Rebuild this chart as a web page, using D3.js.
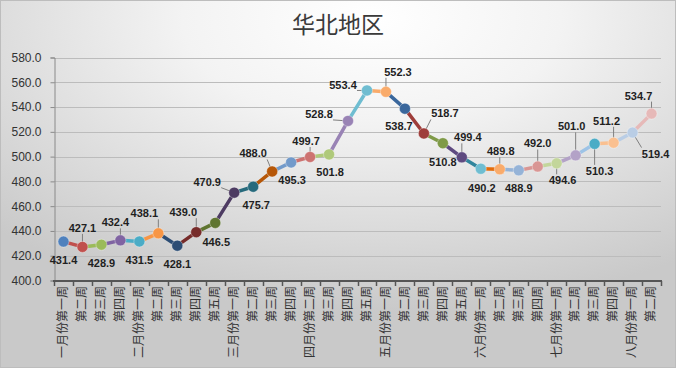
<!DOCTYPE html>
<html><head><meta charset="utf-8">
<script src="https://cdn.jsdelivr.net/npm/d3@7"></script>
<style>body{margin:0;background:#fff}svg{display:block}</style>
</head><body>
<svg id="c" width="676" height="368"></svg>
<script>
const title = "华北地区";
const categories = ["一月份第一周","第二周","第三周","第四周",
  "二月份第一周","第二周","第三周","第四周","第五周",
  "三月份第一周","第二周","第三周","第四周",
  "四月份第二周","第三周","第四周","第五周",
  "五月份第一周","第二周","第三周","第四周","第五周",
  "六月份第一周","第二周","第三周","第四周",
  "七月份第一周","第二周","第三周","第四周",
  "八月份第一周","第二周"];
const values = [431.4,427.1,428.9,432.4,431.5,438.1,428.1,439.0,446.5,470.9,475.7,488.0,
  495.3,499.7,501.8,528.8,553.4,552.3,538.7,518.7,510.8,499.4,490.2,489.8,488.9,492.0,
  494.6,501.0,510.3,511.2,519.4,534.7];
const yTicks = [400,420,440,460,480,500,520,540,560,580];

// styling (Excel vary-colors palette)
const lineColors = ["#4F81BD","#C0504D","#9BBB59","#8064A2","#4BACC6","#F79646",
  "#2C4D75","#772C2A","#5F7530","#4D3B62","#276A7C","#B65708",
  "#729ACA","#CD7371","#AFC97A","#9983B5","#6FBDD1","#F9AB6B",
  "#3A679C","#9E3D3A","#7F9A48","#5E4A80","#31859C","#E46C0A",
  "#95B3D7","#D99694","#C3D69B","#B3A2C7","#9DC3E6","#FAC090",
  "#B9CDE5","#E6B9B8"];
const markerColors = lineColors.map((c,i)=> i===22 ? "#6FBDD1" : i===23 ? "#F9AB6B" : i===28 ? "#4BACC6" : c);
// label offsets [dx, dy, leader]
const labelPos = [[0,18,0],[0,-19,1],[0,18,0],[-5,-18,1],[0,19,0],[-14,-20,1],[0,18,0],[-13,-20,1],
  [1,19,0],[-27,-11,1],[3,18,0],[-19,-18,1],[1,18,0],[-4,-16,1],[1,18,0],[-29,-7,1],
  [-24,-5,1],[12,-20,1],[-6,17,0],[21,-20,1],[0,19,0],[6,-20,1],[1,19,0],[1,-18,1],
  [0,18,0],[0,-23,1],[6,17,1],[-4,-29,1],[5,27,1],[-7,-22,1],[23,21,1],[-13,-18,1]];

const svg = d3.select("#c");
const W = 676, H = 368;
const defs = svg.append("defs");
const g = defs.append("radialGradient").attr("id","bg")
  .attr("cx","0.55").attr("cy","0.05").attr("r","0.8").attr("fx","0.55").attr("fy","0.05");
g.append("stop").attr("offset","0").attr("stop-color","#ffffff");
g.append("stop").attr("offset","0.35").attr("stop-color","#f3f3f3");
g.append("stop").attr("offset","1").attr("stop-color","#c9c9c9");
svg.append("rect").attr("x",0.5).attr("y",0.5).attr("width",W-1).attr("height",H-1)
  .attr("fill","url(#bg)").attr("stroke","#bdbdbd");

const x = d3.scaleBand().domain(d3.range(categories.length)).range([54, 661]);
const y = d3.scaleLinear().domain([400,580]).range([280.5, 57.5]);
const cx = i => x(i) + x.bandwidth()/2;

// title
svg.append("text").attr("x",338).attr("y",33).attr("text-anchor","middle")
  .attr("font-family","'Noto Sans CJK SC'").attr("font-size",23).attr("fill","#3a3a3a")
  .text(title);

// gridlines
svg.append("g").selectAll("line").data(yTicks.filter(t=>t>400)).join("line")
  .attr("x1",54).attr("x2",661).attr("y1",d=>Math.round(y(d))+0.5).attr("y2",d=>Math.round(y(d))+0.5)
  .attr("stroke","#bcbcbc").attr("stroke-width",1);

// y axis
const ya = svg.append("g").attr("transform","translate(54.5,0)")
  .call(d3.axisLeft(y).tickValues(yTicks).tickSize(4).tickPadding(9).tickFormat(d3.format(".1f")));
ya.select(".domain").attr("stroke","#8a8a8a");
ya.selectAll(".tick line").attr("stroke","#8a8a8a");
ya.selectAll("text").attr("font-family","'Liberation Sans', Arial").attr("font-size",12).attr("fill","#333");

// x axis
const xa = svg.append("g");
xa.append("line").attr("x1",53).attr("x2",662).attr("y1",281).attr("y2",281)
  .attr("stroke","#555").attr("stroke-width",2);
xa.selectAll("line.tk").data(d3.range(categories.length+1)).join("line").attr("class","tk")
  .attr("x1",i=>Math.round(i<categories.length ? x(i) : x(i-1)+x.bandwidth())+0.5)
  .attr("x2",i=>Math.round(i<categories.length ? x(i) : x(i-1)+x.bandwidth())+0.5)
  .attr("y1",281).attr("y2",286).attr("stroke","#555").attr("stroke-width",1.5);
xa.selectAll("text").data(categories).join("text")
  .attr("transform",(d,i)=>`translate(${cx(i)-0.5},286) rotate(-90)`)
  .attr("text-anchor","end").attr("dy","0.36em")
  .attr("font-family","'Noto Sans CJK SC'").attr("font-size",12).attr("fill","#333")
  .text(d=>d);

// line segments
const segs = values.slice(1).map((v,k)=>({i:k+1}));
svg.append("g").selectAll("line").data(segs).join("line")
  .attr("x1",d=>cx(d.i-1)).attr("y1",d=>y(values[d.i-1]))
  .attr("x2",d=>cx(d.i)).attr("y2",d=>y(values[d.i]))
  .attr("stroke",d=>lineColors[d.i]).attr("stroke-width",3.5).attr("stroke-linecap","round");

// leader lines
const lab = values.map((v,i)=>({i, v, px:cx(i), py:y(v), lx:cx(i)+labelPos[i][0], ly:y(v)+labelPos[i][1], leader:labelPos[i][2]}));
svg.append("g").selectAll("line").data(lab.filter(d=>d.leader)).join("line")
  .attr("x1",d=>Math.max(d.lx-14, Math.min(d.lx+14, d.px)))
  .attr("y1",d=>Math.max(d.ly-6, Math.min(d.ly+6, d.py)))
  .attr("x2",d=>d.px).attr("y2",d=>d.py)
  .attr("stroke","#7f7f7f").attr("stroke-width",1);

// markers
svg.append("g").selectAll("circle").data(values).join("circle")
  .attr("cx",(d,i)=>cx(i)).attr("cy",d=>y(d)).attr("r",5.5)
  .attr("fill",(d,i)=>markerColors[i]).attr("stroke","#ffffff").attr("stroke-opacity",0.35).attr("stroke-width",1);

// data labels
svg.append("g").selectAll("text").data(lab).join("text")
  .attr("x",d=>d.lx).attr("y",d=>d.ly).attr("dy","0.36em").attr("text-anchor","middle")
  .attr("font-family","'Liberation Sans', Arial").attr("font-weight","bold").attr("font-size",11)
  .attr("fill","#1f1f1f").text(d=>d.v.toFixed(1));
</script>
</body></html>
